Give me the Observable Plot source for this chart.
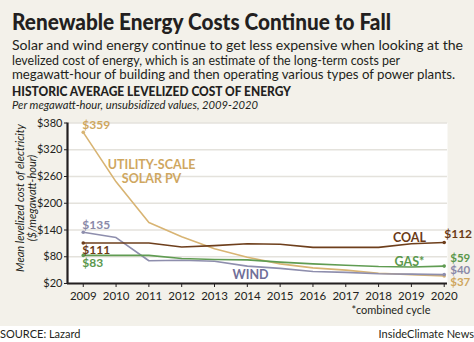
<!DOCTYPE html>
<html>
<head>
<meta charset="utf-8">
<script src="https://cdn.jsdelivr.net/npm/d3@7"></script>
<script src="https://cdn.jsdelivr.net/npm/@observablehq/plot@0.6"></script>
<style>
  html, body { margin: 0; padding: 0; background: #ffffff; }
  #wrap { position: relative; width: 474px; height: 342px; overflow: hidden; font-family: Lato, "Open Sans", sans-serif; color: #231f20; }
  #panel { position: absolute; left: 0; top: 0; width: 474px; height: 326px; background: #f3f1ea; }
  .abs { position: absolute; white-space: nowrap; }
  .fit { transform-origin: 0 50%; display: inline-block; }
</style>
</head>
<body>
<div id="wrap">
  <div id="panel"></div>
  <div class="abs" style="left:12px; top:8px; font-size:23px; line-height:26px; font-weight:900;"><span class="fit" data-w="379">Renewable Energy Costs Continue to Fall</span></div>
  <div class="abs" style="left:12px; top:38px; font-size:13.5px; line-height:14.5px;">
    <span class="fit" data-w="451">Solar and wind energy continue to get less expensive when looking at the</span><br>
    <span class="fit" data-w="388">levelized cost of energy, which is an estimate of the long-term costs per</span><br>
    <span class="fit" data-w="443">megawatt-hour of building and then operating various types of power plants.</span>
  </div>
  <div class="abs" style="left:12px; top:85px; font-size:13px; line-height:13px; font-weight:900;"><span class="fit" data-w="279">HISTORIC AVERAGE LEVELIZED COST OF ENERGY</span></div>
  <div class="abs" style="left:12px; top:99px; font-size:11.5px; line-height:12px; font-style:italic;"><span class="fit" data-w="246">Per megawatt-hour, unsubsidized values, 2009-2020</span></div>
  <div id="chart" class="abs" style="left:0; top:110px;"></div>
  <div class="abs" style="left:-59px; top:186px; width:170px; text-align:center; font-size:11px; line-height:12px; font-style:italic; transform: rotate(-90deg);">Mean levelized cost of electricity<br>($/megawatt-hour)</div>
  <div class="abs" style="left:351px; top:303px; width:80px; text-align:center; font-size:11px; line-height:14px;">*combined cycle</div>
  <div class="abs" style="left:0px; top:327px; font-size:11px; line-height:14px;">SOURCE: Lazard</div>
  <div class="abs" style="right:0px; top:327px; font-size:11px; line-height:14px;">InsideClimate News</div>
</div>
<script>
// ---- data ----
const years = [2009, 2010, 2011, 2012, 2013, 2014, 2015, 2016, 2017, 2018, 2019, 2020];
const solarPV = [359, 248, 157, 125, 98, 79, 64, 55, 50, 43, 40, 37];
const wind    = [135, 123, 71, 72, 70, 59, 54, 47, 45, 42, 41, 40];
const coal    = [111, 111, 111, 102, 105, 109, 108, 101, 101, 101, 109, 112];
const gas     = [83, 83, 83, 76, 74, 73, 68, 64, 61, 58, 57, 59];
const yTicks  = [20, 80, 140, 200, 260, 320, 380];
const seriesNames = ["UTILITY-SCALE\nSOLAR PV", "WIND", "COAL", "GAS*"];

const seriesDefs = [
  {name: seriesNames[0], values: solarPV, line: "#d8b473", label: "#cfa75f"},
  {name: seriesNames[1], values: wind,    line: "#8e8ead", label: "#8a89a8"},
  {name: seriesNames[2], values: coal,    line: "#6e3f1c", label: "#6b3b17"},
  {name: seriesNames[3], values: gas,     line: "#609c52", label: "#5b984c"}
];
const rows = s => years.map((y, i) => ({year: y, value: s.values[i]}));

const marks = [
  Plot.frame({fill: "#ffffff", stroke: null}),
  Plot.gridY(yTicks, {stroke: "#e4e2dc", strokeOpacity: 1, strokeWidth: 1.4}),
  Plot.axisX({ticks: years, tickFormat: d => String(d), tickSize: 4, tickPadding: 4, fontSize: 11.5, label: null, stroke: "#231f20"}),
  Plot.axisY({ticks: yTicks, tickFormat: d => "$" + d, tickSize: 3, tickPadding: 2, fontSize: 11, label: null, stroke: "#231f20"})
];
for (const s of seriesDefs) {
  const d = rows(s);
  marks.push(Plot.line(d, {x: "year", y: "value", stroke: s.line, strokeWidth: 1.6}));
  marks.push(Plot.dot([d[0], d[d.length - 1]], {x: "year", y: "value", fill: s.line, r: 1.8}));
}
marks.push(
  Plot.ruleX([2008.52], {stroke: "#231f20", strokeWidth: 2.2}),
  Plot.ruleY([20], {stroke: "#231f20", strokeWidth: 2.2})
);

// value labels at the first and last points
const first = i => ({year: years[0], value: seriesDefs[i].values[0]});
const last = i => ({year: years[years.length - 1], value: seriesDefs[i].values[years.length - 1]});
const lab = (pt, color, dx, dy, fs = 12) => Plot.text([pt], {x: "year", y: "value", text: d => "$" + d.value, fill: color, dx, dy, textAnchor: "start", fontWeight: "bold", fontSize: fs});
marks.push(
  lab(first(0), seriesDefs[0].label, -1, -7),
  lab(first(1), seriesDefs[1].label, -1, -7),
  lab(first(2), seriesDefs[2].label, -1, 7),
  lab(first(3), seriesDefs[3].label, -1, 8),
  lab(last(2), seriesDefs[2].label, 0, -8),
  lab(last(3), seriesDefs[3].label, 6, -8, 11.5),
  lab(last(1), seriesDefs[1].label, 6, -4, 11.5),
  lab(last(0), seriesDefs[0].label, 6, 6.5, 11.5)
);
// series name labels
const nameLab = (name, yr, val, color, anchor) => Plot.text([{year: yr, value: val}], {x: "year", y: "value", text: () => name, fill: color, textAnchor: anchor, fontWeight: "bold", fontSize: 12.5, lineHeight: 1.15});
marks.push(
  nameLab(seriesDefs[0].name, 2011.08, 272, seriesDefs[0].label, "middle"),
  nameLab(seriesDefs[1].name, 2013.55, 40, "#6f6e98", "start"),
  nameLab(seriesDefs[2].name, 2018.94, 124, seriesDefs[2].label, "middle"),
  nameLab(seriesDefs[3].name, 2018.94, 69, seriesDefs[3].label, "middle")
);

const chart = Plot.plot({
  width: 474,
  height: 215,
  marginLeft: 67,
  marginRight: 27,
  marginTop: 12.5,
  marginBottom: 42,
  style: {background: "transparent", fontFamily: "Lato, 'Open Sans', sans-serif", color: "#231f20", overflow: "visible"},
  x: {domain: [2008.52, 2020.1]},
  y: {domain: [20, 380]},
  marks
});
document.getElementById("chart").appendChild(chart);

// squeeze header lines to the reference widths
document.querySelectorAll(".fit").forEach(el => {
  const w = el.getBoundingClientRect().width;
  const target = +el.dataset.w;
  if (w > 0) el.style.transform = `scaleX(${target / w})`;
});
</script>
</body>
</html>
